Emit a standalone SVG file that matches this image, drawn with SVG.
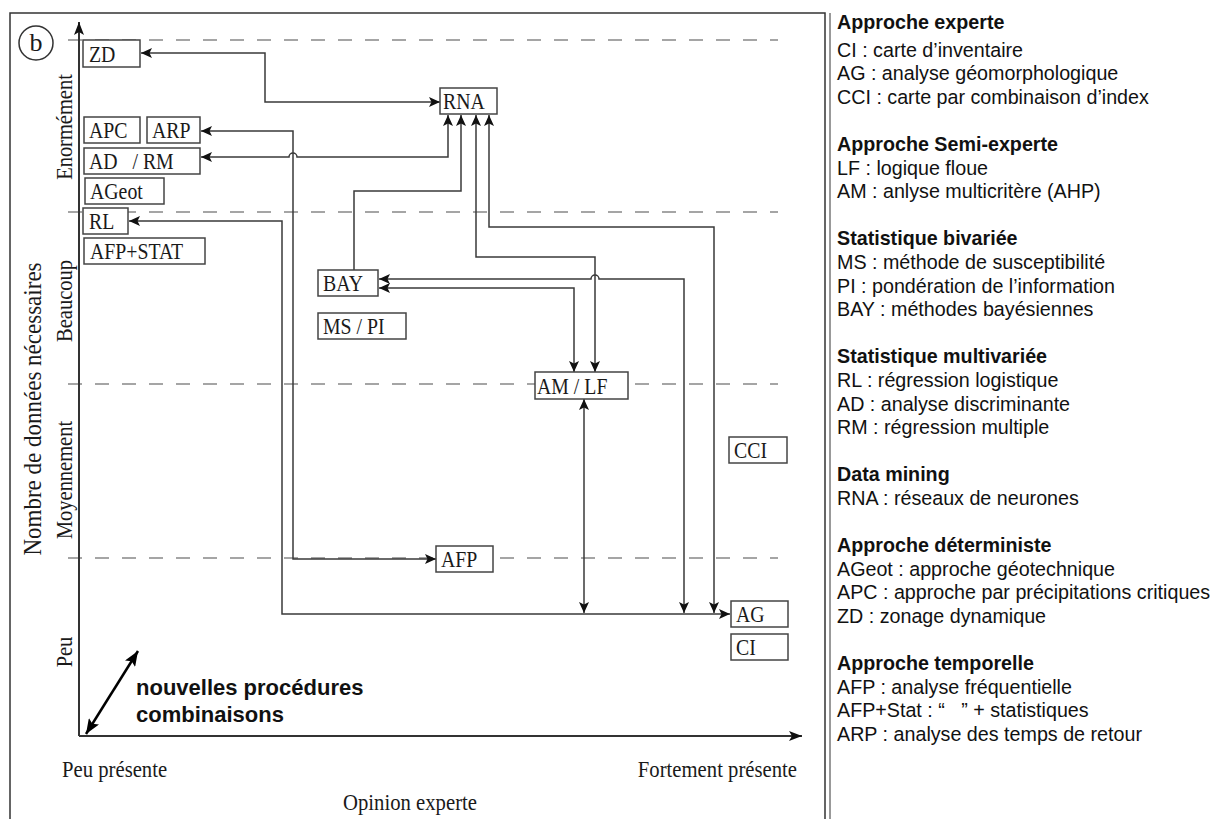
<svg xmlns="http://www.w3.org/2000/svg" width="1216" height="819" viewBox="0 0 1216 819">
<style>
.frame{fill:none;stroke:#333;stroke-width:1.5}
.dash{stroke:#888;stroke-width:1.6;stroke-dasharray:14 13;fill:none}
.box{fill:#fff;stroke:#444;stroke-width:1.5}
.bt{font-family:"Liberation Serif","Times New Roman",serif;font-size:22.5px;fill:#1a1a1a;white-space:pre}
.ax{font-family:"Liberation Serif","Times New Roman",serif;font-size:22.5px;fill:#1a1a1a;text-anchor:middle}
.con{fill:none;stroke:#3a3a3a;stroke-width:1.5;marker-start:url(#arr);marker-end:url(#arr)}
.con1{fill:none;stroke:#3a3a3a;stroke-width:1.5;marker-end:url(#arr)}
.lg{font-family:"Liberation Sans",Arial,sans-serif;font-size:19.7px;fill:#111;white-space:pre}
.lgb{font-family:"Liberation Sans",Arial,sans-serif;font-size:19.7px;font-weight:bold;fill:#111}
.np{font-family:"Liberation Sans",Arial,sans-serif;font-size:22px;font-weight:bold;fill:#111}
</style>
<defs>
<marker id="arr" markerUnits="userSpaceOnUse" markerWidth="12" markerHeight="10" refX="11" refY="5" orient="auto-start-reverse">
<path d="M0,0 L11,5 L0,10 L2.5,5 z" fill="#111"/>
</marker>
<marker id="big" markerUnits="userSpaceOnUse" markerWidth="16" markerHeight="12" refX="15" refY="6" orient="auto-start-reverse">
<path d="M0,0 L15,6 L0,12 L3,6 z" fill="#000"/>
</marker>
<marker id="ax" markerUnits="userSpaceOnUse" markerWidth="14" markerHeight="10" refX="13" refY="5" orient="auto">
<path d="M0,0 L13,5 L0,10 L3,5 z" fill="#111"/>
</marker>
</defs>

<rect width="1216" height="819" fill="#fff"/>

<g id="frame">
<path class="frame" d="M10,830 V13 H825 V830"/>
<line x1="830" y1="13" x2="830" y2="819" stroke="#555" stroke-width="1.2"/>
</g>

<g id="grid">
<line class="dash" x1="68" y1="40" x2="778" y2="40"/>
<line class="dash" x1="68" y1="212" x2="778" y2="212"/>
<line class="dash" x1="68" y1="384" x2="778" y2="384"/>
<line class="dash" x1="68" y1="558" x2="778" y2="558"/>
</g>

<g id="axes">
<line x1="79" y1="736" x2="79" y2="22" stroke="#333" stroke-width="2" marker-end="url(#ax)"/>
<line x1="79" y1="736" x2="802" y2="736" stroke="#333" stroke-width="2" marker-end="url(#ax)"/>
<circle cx="36" cy="43" r="17" fill="none" stroke="#333" stroke-width="1.5"/>
<text x="36" y="51" class="ax" style="font-size:26px">b</text>
<text class="ax" transform="translate(72,127) rotate(-90) scale(0.91,1)">Enormément</text>
<text class="ax" transform="translate(72,301) rotate(-90) scale(0.91,1)">Beaucoup</text>
<text class="ax" transform="translate(72,480) rotate(-90) scale(0.91,1)">Moyennement</text>
<text class="ax" transform="translate(72,652) rotate(-90) scale(0.91,1)">Peu</text>
<text class="ax" style="font-size:25px" transform="translate(41,409) rotate(-90) scale(0.92,1)">Nombre de données nécessaires</text>
<text class="ax" style="text-anchor:start" transform="translate(62,777) scale(0.92,1)">Peu présente</text>
<text class="ax" style="text-anchor:end" transform="translate(797,777) scale(0.92,1)">Fortement présente</text>
<text class="ax" style="font-size:23px" transform="translate(410,810) scale(0.9,1)">Opinion experte</text>
<line x1="86" y1="734" x2="138" y2="651" stroke="#000" stroke-width="2.5" marker-start="url(#big)" marker-end="url(#big)"/>
<text x="136" y="695" class="np">nouvelles procédures</text>
<text x="136" y="722" class="np">combinaisons</text>
</g>

<g id="connectors">
<path class="con" d="M440,102 H265 V53 H141"/>
<path class="con" d="M201,131 H293 V559 H436"/>
<path class="con" d="M201,157 H289 a4,4 0 0 1 8,0 H448 V115"/>
<path class="con" d="M129,221 H282 V614 H730"/>
<path class="con1" d="M354,270 V191 H461 V115"/>
<path class="con" d="M476,115 V257 H595 V372"/>
<path class="con" d="M489,115 V227 H714 V613"/>
<path class="con" d="M379,279 H591 a4,4 0 0 1 8,0 H684 V613"/>
<path class="con" d="M379,288 H574 V372"/>
<path class="con" d="M584,399 V613"/>
</g>

<g id="n-zd"><rect class="box" x="83" y="40" width="57" height="27"/><text class="bt" transform="translate(89,62) scale(0.88,1)">ZD</text></g>
<g id="n-apc"><rect class="box" x="84" y="117" width="56" height="26"/><text class="bt" transform="translate(89,138) scale(0.88,1)">APC</text></g>
<g id="n-arp"><rect class="box" x="147" y="117" width="53" height="26"/><text class="bt" transform="translate(152,138) scale(0.88,1)">ARP</text></g>
<g id="n-adrm"><rect class="box" x="84" y="148" width="116" height="26"/><text class="bt" transform="translate(89,169) scale(0.88,1)">AD   / RM</text></g>
<g id="n-ageot"><rect class="box" x="85" y="178" width="79" height="26"/><text class="bt" transform="translate(90,199) scale(0.88,1)">AGeot</text></g>
<g id="n-rl"><rect class="box" x="83" y="208" width="45" height="26"/><text class="bt" transform="translate(89,229) scale(0.88,1)">RL</text></g>
<g id="n-afpstat"><rect class="box" x="84" y="238" width="121" height="26"/><text class="bt" transform="translate(90,259) scale(0.88,1)">AFP+STAT</text></g>
<g id="n-rna"><rect class="box" x="440" y="88" width="57" height="26"/><text class="bt" transform="translate(443,109) scale(0.88,1)">RNA</text></g>
<g id="n-bay"><rect class="box" x="318" y="270" width="60" height="26"/><text class="bt" transform="translate(323,291) scale(0.88,1)">BAY</text></g>
<g id="n-mspi"><rect class="box" x="318" y="313" width="88" height="26"/><text class="bt" transform="translate(323,334) scale(0.88,1)">MS / PI</text></g>
<g id="n-amlf"><rect class="box" x="535" y="372" width="93" height="27"/><text class="bt" transform="translate(537,394) scale(0.88,1)">AM / LF</text></g>
<g id="n-afp"><rect class="box" x="436" y="546" width="57" height="26"/><text class="bt" transform="translate(441,567) scale(0.88,1)">AFP</text></g>
<g id="n-cci"><rect class="box" x="729" y="437" width="58" height="26"/><text class="bt" transform="translate(734,458) scale(0.88,1)">CCI</text></g>
<g id="n-ag"><rect class="box" x="731" y="601" width="57" height="26"/><text class="bt" transform="translate(736,622) scale(0.88,1)">AG</text></g>
<g id="n-ci"><rect class="box" x="731" y="634" width="57" height="26"/><text class="bt" transform="translate(736,655) scale(0.88,1)">CI</text></g>

<g id="legend">
<text class="lgb" x="837" y="29">Approche experte</text>
<text class="lg" x="837" y="56.6">CI : carte d’inventaire</text>
<text class="lg" x="837" y="80.2">AG : analyse géomorphologique</text>
<text class="lg" x="837" y="103.8">CCI : carte par combinaison d’index</text>
<text class="lgb" x="837" y="151">Approche Semi-experte</text>
<text class="lg" x="837" y="174.6">LF : logique floue</text>
<text class="lg" x="837" y="198.2">AM : anlyse multicritère (AHP)</text>
<text class="lgb" x="837" y="245.4">Statistique bivariée</text>
<text class="lg" x="837" y="269">MS : méthode de susceptibilité</text>
<text class="lg" x="837" y="292.6">PI : pondération de l’information</text>
<text class="lg" x="837" y="316.2">BAY : méthodes bayésiennes</text>
<text class="lgb" x="837" y="363.4">Statistique multivariée</text>
<text class="lg" x="837" y="387">RL : régression logistique</text>
<text class="lg" x="837" y="410.6">AD : analyse discriminante</text>
<text class="lg" x="837" y="434.2">RM : régression multiple</text>
<text class="lgb" x="837" y="481.4">Data mining</text>
<text class="lg" x="837" y="505">RNA : réseaux de neurones</text>
<text class="lgb" x="837" y="552.2">Approche déterministe</text>
<text class="lg" x="837" y="575.8">AGeot : approche géotechnique</text>
<text class="lg" x="837" y="599.4">APC : approche par précipitations critiques</text>
<text class="lg" x="837" y="623">ZD : zonage dynamique</text>
<text class="lgb" x="837" y="670.2">Approche temporelle</text>
<text class="lg" x="837" y="693.8">AFP : analyse fréquentielle</text>
<text class="lg" x="837" y="717.4">AFP+Stat : “   ” + statistiques</text>
<text class="lg" x="837" y="741">ARP : analyse des temps de retour</text>
</g>
</svg>
